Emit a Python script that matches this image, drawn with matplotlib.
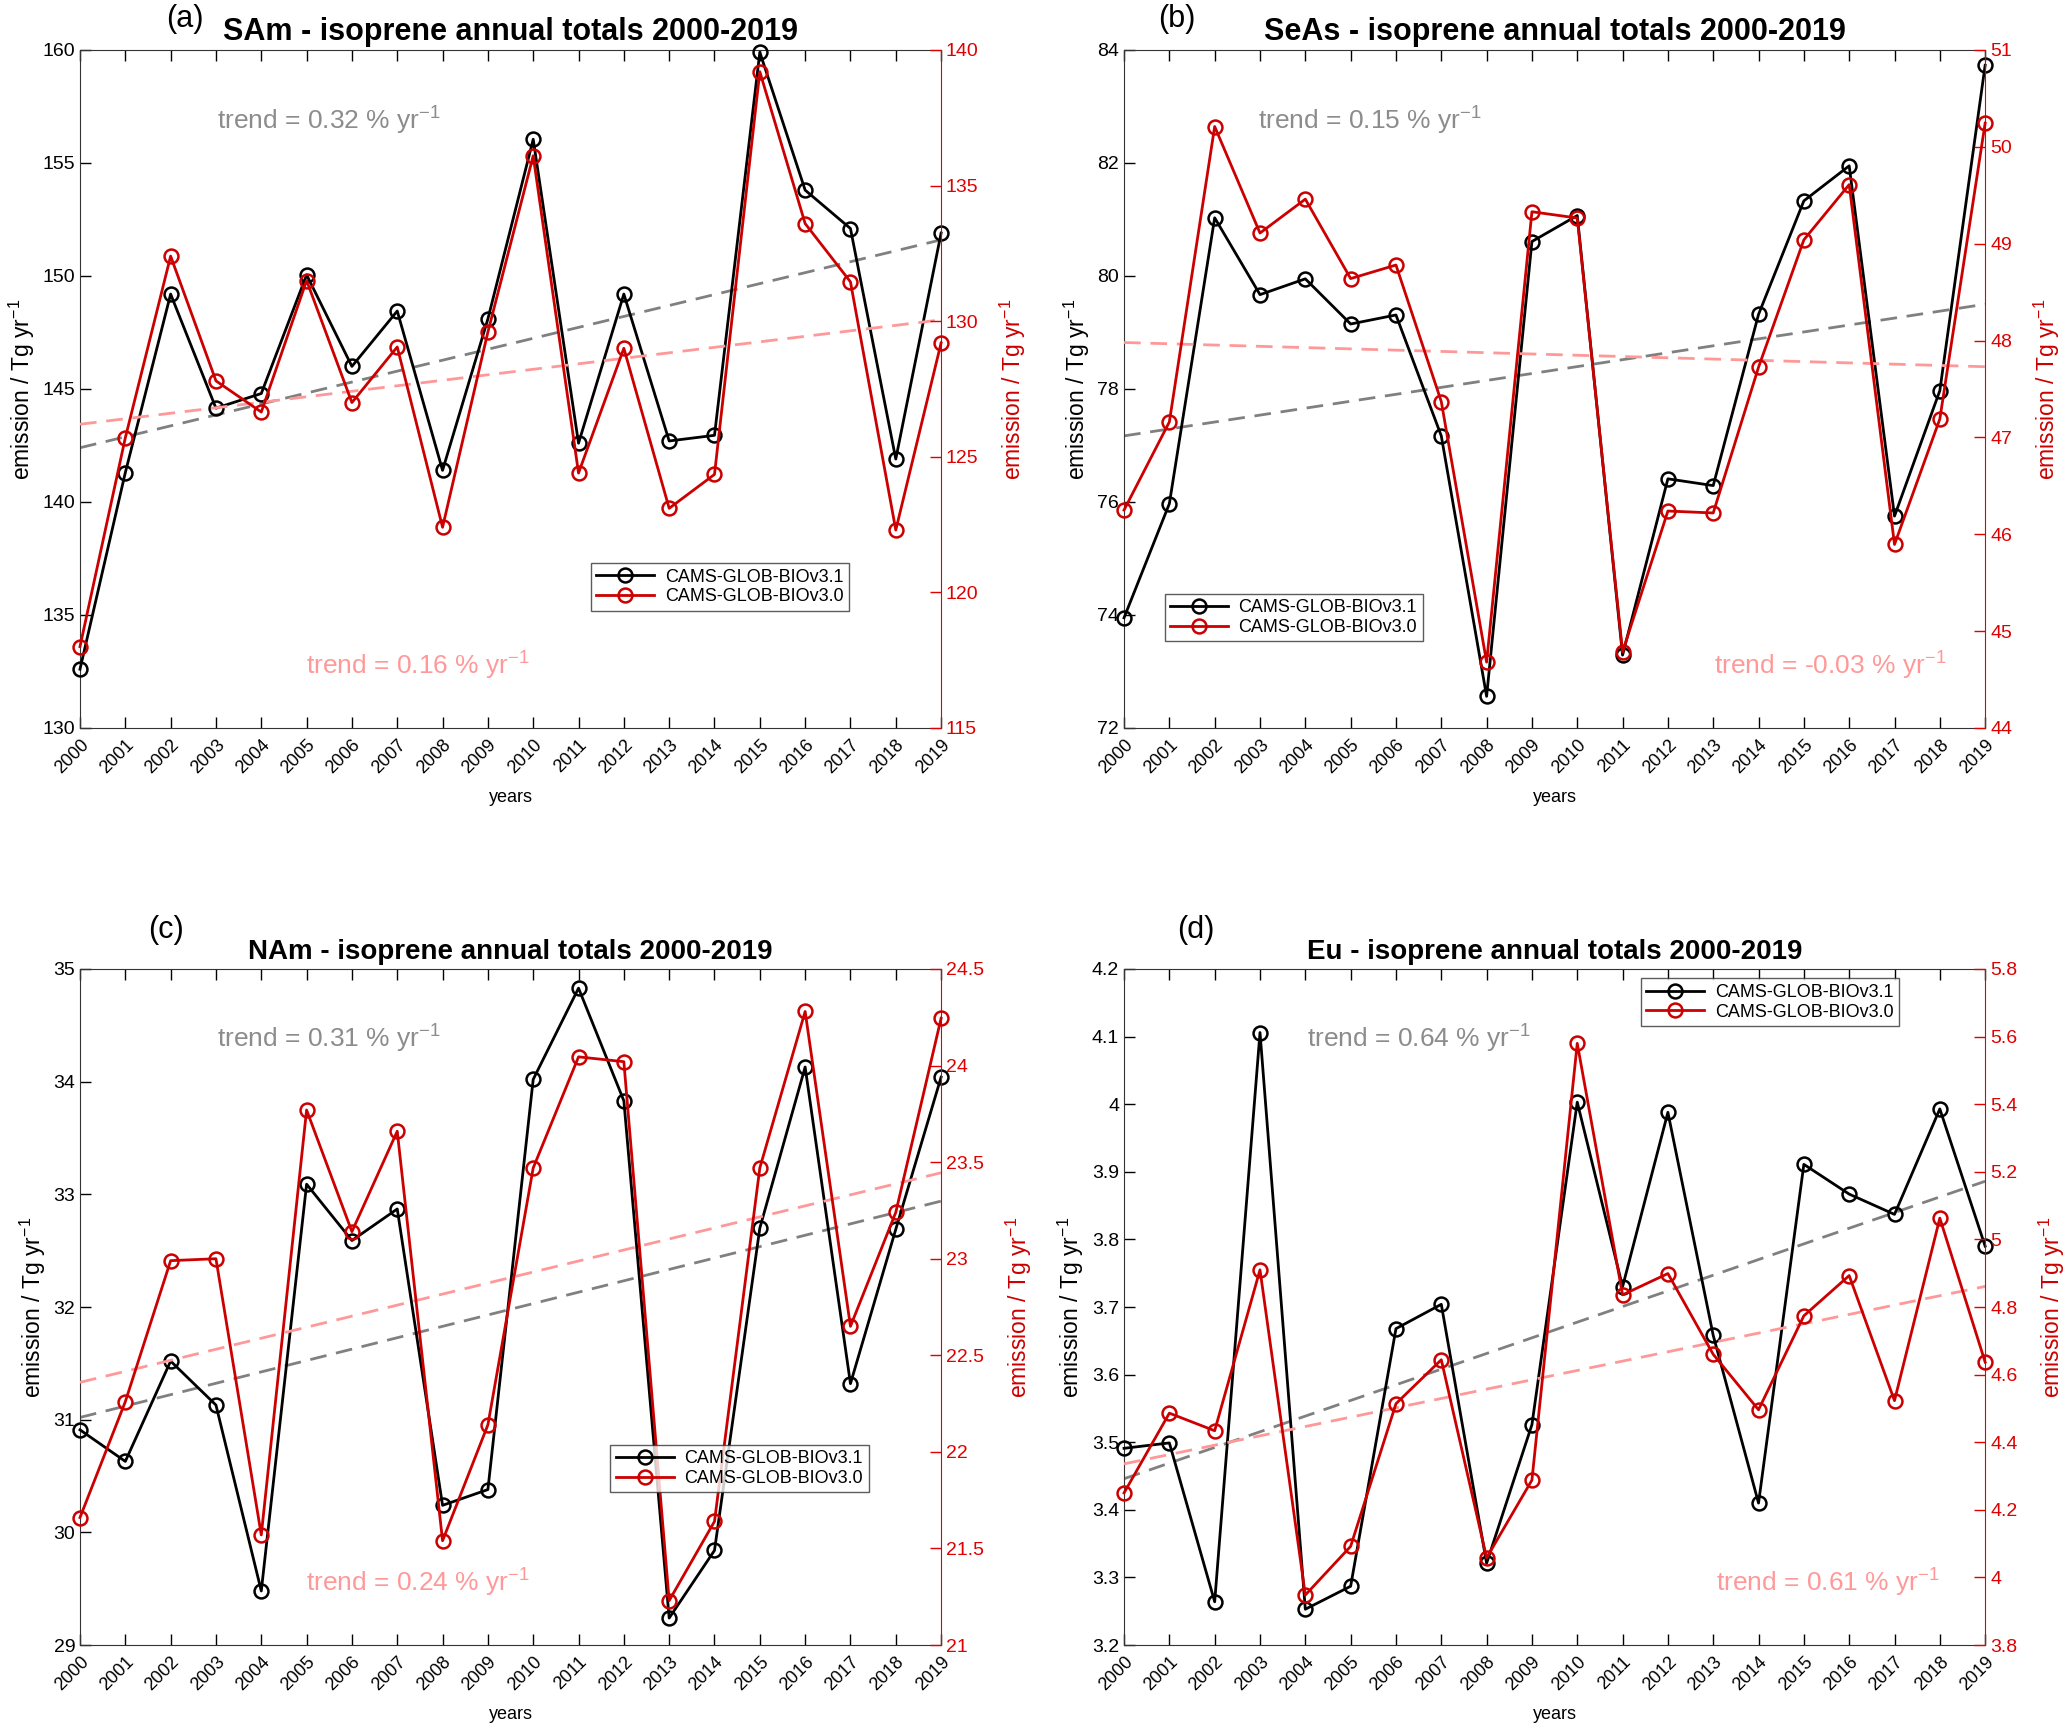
import numpy as np
import matplotlib
matplotlib.use('Agg')
import matplotlib.pyplot as plt
from matplotlib.lines import Line2D

plt.rcParams['font.family'] = ['Liberation Sans', 'DejaVu Sans']
plt.rcParams['mathtext.default'] = 'regular'

# anos
years = np.arange(2000, 2020)

# (a) SAm
sam_v31 = [132.6, 141.3, 149.2, 144.15, 144.8, 150.05, 146.0, 148.45, 141.4, 148.1,
           156.05, 142.6, 149.2, 142.7, 142.95, 159.9, 153.8, 152.1, 141.9, 151.9]
sam_v30 = [118.0, 125.7, 132.4, 127.8, 126.65, 131.5, 127.0, 129.05, 122.4, 129.6,
           136.1, 124.4, 129.0, 123.1, 124.35, 139.2, 133.6, 131.45, 122.3, 129.2]
sam_trend31 = [142.4, 151.6]
sam_trend30 = [126.2, 130.05]

# (b) SeAs
seas_v31 = [73.95, 75.97, 81.03, 79.67, 79.95, 79.15, 79.31, 77.17, 72.56, 80.61,
            81.07, 73.29, 76.41, 76.29, 79.32, 81.33, 81.95, 75.75, 77.97, 83.73]
seas_v30 = [46.25, 47.16, 50.21, 49.11, 49.46, 48.64, 48.78, 47.37, 44.68, 49.33,
            49.265, 44.785, 46.24, 46.22, 47.725, 49.04, 49.61, 45.895, 47.19, 50.245]
seas_trend31 = [77.17, 79.5]
seas_trend30 = [47.98, 47.73]

# (c) NAm
nam_v31 = [30.91, 30.63, 31.52, 31.13, 29.48, 33.09, 32.59, 32.87, 30.24, 30.38,
           34.02, 34.83, 33.83, 29.24, 29.84, 32.70, 34.13, 31.32, 32.69, 34.04]
nam_v30 = [21.66, 22.26, 22.99, 23.0, 21.57, 23.77, 23.14, 23.66, 21.54, 22.14,
           23.47, 24.045, 24.02, 21.23, 21.64, 23.47, 24.28, 22.65, 23.24, 24.245]
nam_trend31 = [31.02, 32.94]
nam_trend30 = [22.36, 23.445]

# (d) Eu
eu_v31 = [3.491, 3.499, 3.264, 4.106, 3.253, 3.287, 3.668, 3.704, 3.321, 3.526,
          4.003, 3.73, 3.988, 3.658, 3.41, 3.911, 3.867, 3.837, 3.993, 3.79]
eu_v30 = [4.25, 4.486, 4.434, 4.91, 3.948, 4.092, 4.514, 4.644, 4.058, 4.288,
          5.58, 4.836, 4.899, 4.66, 4.496, 4.774, 4.893, 4.523, 5.063, 4.637]
eu_trend31 = [3.446, 3.886]
eu_trend30 = [4.336, 4.861]

PRETO = 'black'
VERMELHO = '#cc0000'
EIXO_VERM = '#e00000'
CINZA = '#808080'
ROSA = '#ff9999'

paineis = [
    dict(letra='(a)', regiao='SAm', v31=sam_v31, v30=sam_v30, t31=sam_trend31, t30=sam_trend30,
         tr31='0.32', tr30='0.16', yl=(130, 160), yt=np.arange(130, 161, 5),
         yr=(115, 140), yrt=np.arange(115, 141, 5), tsize=22,
         pos=[0.0387, 0.5792, 0.4166, 0.3919], leg=(0.593, 0.243),
         txt31=(0.159, 0.895), txt30=(0.263, 0.091), letpos=(0.0893, 0.9893)),
    dict(letra='(b)', regiao='SeAs', v31=seas_v31, v30=seas_v30, t31=seas_trend31, t30=seas_trend30,
         tr31='0.15', tr30='-0.03', yl=(72, 84), yt=np.arange(72, 85, 2),
         yr=(44, 51), yrt=np.arange(44, 52, 1), tsize=22,
         pos=[0.5438, 0.5792, 0.4166, 0.3919], leg=(0.047, 0.198),
         txt31=(0.156, 0.895), txt30=(0.685, 0.091), letpos=(0.5695, 0.9893)),
    dict(letra='(c)', regiao='NAm', v31=nam_v31, v30=nam_v30, t31=nam_trend31, t30=nam_trend30,
         tr31='0.31', tr30='0.24', yl=(29, 35), yt=np.arange(29, 36, 1),
         yr=(21, 24.5), yrt=np.arange(21, 24.51, 0.5), tsize=20,
         pos=[0.0387, 0.0491, 0.4166, 0.3908], leg=(0.616, 0.296),
         txt31=(0.159, 0.897), txt30=(0.263, 0.092), letpos=(0.0804, 0.4627)),
    dict(letra='(d)', regiao='Eu', v31=eu_v31, v30=eu_v30, t31=eu_trend31, t30=eu_trend30,
         tr31='0.64', tr30='0.61', yl=(3.2, 4.2), yt=np.arange(3.2, 4.21, 0.1),
         yr=(3.8, 5.8), yrt=np.arange(3.8, 5.81, 0.2), tsize=20,
         pos=[0.5438, 0.0491, 0.4166, 0.3908], leg=(0.60, 0.986),
         txt31=(0.213, 0.897), txt30=(0.688, 0.092), letpos=(0.5784, 0.4627)),
]

fig = plt.figure(figsize=(20.67, 17.30), dpi=100)

for p in paineis:
    ax = fig.add_axes(p['pos'])
    ax2 = ax.twinx()

    # linhas de tendência
    ax.plot([years[0], years[-1]], p['t31'], color=CINZA, lw=2.0, dashes=(6, 3.5), zorder=1)
    ax2.plot([years[0], years[-1]], p['t30'], color=ROSA, lw=2.0, dashes=(6, 3.5), zorder=1)

    ax.plot(years, p['v31'], color=PRETO, lw=2.0, marker='o', ms=10,
            mfc='none', mew=1.8, clip_on=False, zorder=3)
    ax2.plot(years, p['v30'], color=VERMELHO, lw=2.0, marker='o', ms=10,
             mfc='none', mew=1.8, clip_on=False, zorder=3)

    ax.set_xlim(2000, 2019)
    ax.set_ylim(*p['yl'])
    ax.set_yticks(p['yt'])
    ax.set_yticklabels(['{:g}'.format(round(v, 2)) for v in p['yt']])
    ax2.set_ylim(*p['yr'])
    ax2.set_yticks(p['yrt'])
    ax2.set_yticklabels(['{:g}'.format(round(v, 2)) for v in p['yrt']])

    ax.set_xticks(years)
    ax.set_xticklabels([str(y) for y in years], rotation=45, ha='right',
                       rotation_mode='anchor', fontsize=13)
    ax.tick_params(axis='x', direction='in', top=True, length=8, width=1, pad=6)
    ax.tick_params(axis='y', direction='in', length=8, width=1, labelsize=14, right=False)
    ax2.tick_params(axis='y', direction='in', length=8, width=1, labelsize=14,
                    colors=EIXO_VERM)

    for s in ['left', 'bottom', 'top']:
        ax.spines[s].set_color('#333333')
    ax.spines['right'].set_visible(False)
    ax2.spines['right'].set_color(EIXO_VERM)
    for s in ['left', 'bottom', 'top']:
        ax2.spines[s].set_visible(False)

    ax.set_ylabel('emission / Tg yr$^{-1}$', fontsize=16.5, labelpad=4)
    ax2.set_ylabel('emission / Tg yr$^{-1}$', fontsize=16.5, color=VERMELHO, labelpad=14)
    ax.set_xlabel('years', fontsize=13, labelpad=9)
    ax.set_title(p['regiao'] + ' - isoprene annual totals 2000-2019',
                 fontsize=p['tsize'], fontweight='bold', pad=7)

    ax.text(p['txt31'][0], p['txt31'][1], 'trend = ' + p['tr31'] + ' % yr$^{-1}$',
            transform=ax.transAxes, color='#8c8c8c', fontsize=19, va='center', ha='left')
    ax.text(p['txt30'][0], p['txt30'][1], 'trend = ' + p['tr30'] + ' % yr$^{-1}$',
            transform=ax.transAxes, color=ROSA, fontsize=19, va='center', ha='left',
            zorder=5)

    h1 = Line2D([], [], color=PRETO, lw=2.0, marker='o', ms=10, mfc='none', mew=1.8)
    h2 = Line2D([], [], color=VERMELHO, lw=2.0, marker='o', ms=10, mfc='none', mew=1.8)
    leg = ax2.legend([h1, h2], ['CAMS-GLOB-BIOv3.1', 'CAMS-GLOB-BIOv3.0'],
                     loc='upper left', bbox_to_anchor=p['leg'], fontsize=13,
                     frameon=True, fancybox=False, edgecolor='#333333',
                     handlelength=3.2, borderpad=0.3, labelspacing=0.15,
                     handletextpad=0.6, borderaxespad=0)
    leg.get_frame().set_linewidth(1.0)

    # letra do painel
    fig.text(p['letpos'][0], p['letpos'][1], p['letra'],
             fontsize=22, ha='center', va='center')

fig.savefig('out.png', dpi=100)
